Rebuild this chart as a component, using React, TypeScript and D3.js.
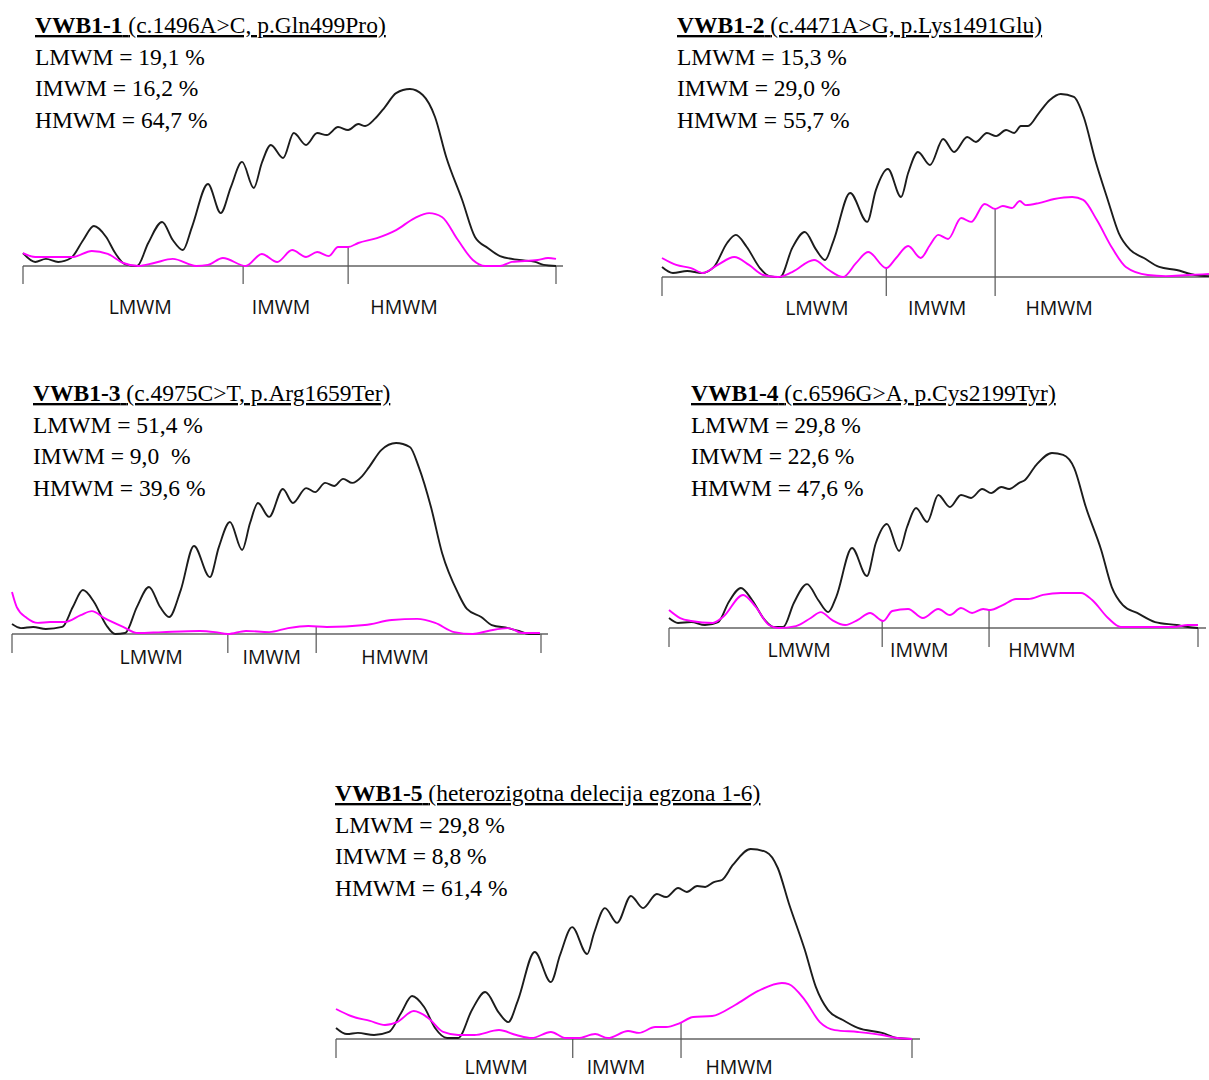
import React from 'react';
import * as d3 from 'd3';

type Pt = [number, number];

// ---------- Data (x: migration, % of lane length; y: relative density, % of highest peak) ----------
const sampleIds = ['VWB1-1', 'VWB1-2', 'VWB1-3', 'VWB1-4', 'VWB1-5'];
const sampleVariants = [
  '(c.1496A>C, p.Gln499Pro)',
  '(c.4471A>G, p.Lys1491Glu)',
  '(c.4975C>T, p.Arg1659Ter)',
  '(c.6596G>A, p.Cys2199Tyr)',
  '(heterozigotna delecija egzona 1-6)',
];
const fractionNames = ['LMWM', 'IMWM', 'HMWM'];
const lmwmPercent = ['19,1', '15,3', '51,4', '29,8', '29,8'];
const imwmPercent = ['16,2', '29,0', '9,0 ', '22,6', '8,8'];
const hmwmPercent = ['64,7', '55,7', '39,6', '47,6', '61,4'];

const vwb1Patient: Pt[] = [
  [0, 7.3], [2.3, 2.3], [4.3, 4.0], [6.6, 2.3], [9.0, 4.5], [11.3, 14.7], [13.3, 22.6], [15.6, 16.4],
  [17.3, 7.3], [19.1, 1.1], [21.4, 0], [23.5, 13.0], [26.1, 24.9], [28.1, 14.7], [30.0, 9.0], [31.7, 22.0],
  [34.7, 46.3], [37.1, 29.9], [39.0, 44.6], [41.1, 58.8], [43.3, 44.1], [44.8, 58.2], [46.5, 68.4],
  [48.8, 61.0], [50.8, 75.1], [53.1, 68.4], [55.2, 75.1], [57.0, 74.0], [59.1, 78.5], [61.0, 76.8],
  [62.9, 80.2], [64.2, 79.1], [66.0, 83.1], [67.9, 89.8], [70.0, 97.7], [72.6, 100], [75.0, 96.6],
  [77.3, 84.2], [79.4, 61.6], [82.4, 37.3], [84.8, 16.4], [87.2, 10.2], [89.5, 5.6], [93.1, 3.4],
  [96.1, 2.3], [97.7, 0.6], [100, 0],
];
const vwb1Ref: Pt[] = [
  [0, 7.3], [2.3, 5.1], [9.4, 5.1], [12.9, 8.5], [15.9, 6.8], [18.8, 1.7], [21.6, 0], [24.6, 1.7],
  [28.1, 4.0], [32.5, 0], [34.7, 0.6], [37.5, 4.5], [41.8, 0], [44.8, 6.8], [47.7, 2.3], [50.5, 9.0],
  [53.1, 5.1], [55.2, 7.9], [57.4, 5.6], [59.1, 10.7], [61.0, 10.7], [62.9, 13.0], [66.4, 15.8],
  [70.0, 20.3], [73.5, 27.1], [76.2, 29.9], [78.6, 27.7], [81.6, 14.7], [84.4, 3.4], [86.7, 0],
  [89.5, 0], [91.7, 2.3], [96.6, 3.4], [98.5, 4.5], [100, 4.0],
];

const vwb2Patient: Pt[] = [
  [0, 5.5], [2.0, 2.2], [4.6, 3.3], [7.3, 2.2], [9.5, 5.5], [11.9, 18.6], [13.5, 23.0], [15.5, 16.4],
  [17.9, 4.9], [19.6, 0.5], [21.6, 0], [23.8, 15.8], [26.1, 24.6], [28.2, 14.8], [29.8, 9.3], [31.4, 20.2],
  [34.4, 45.9], [37.5, 30.1], [39.1, 47.5], [41.3, 59.0], [43.7, 43.7], [45.0, 56.8], [46.8, 68.3],
  [49.0, 61.2], [51.4, 75.4], [53.4, 68.3], [55.8, 76.5], [57.4, 73.8], [59.4, 78.7], [61.1, 77.0],
  [62.9, 80.3], [64.4, 78.7], [65.6, 82.5], [66.9, 82.5], [68.9, 89.6], [70.9, 96.7], [72.9, 100],
  [75.3, 98.4], [77.1, 87.4], [79.2, 63.9], [81.5, 42.1], [83.5, 24.0], [85.6, 14.8], [88.1, 10.4],
  [90.9, 5.5], [94.1, 3.8], [97.4, 1.1], [100, 0.5],
];
const vwb2Ref: Pt[] = [
  [0, 10.4], [2.6, 6.6], [5.3, 4.9], [7.5, 2.2], [10.2, 6.6], [13.2, 10.9], [15.9, 6.6], [18.5, 1.1],
  [21.2, 0], [23.8, 2.7], [27.8, 9.3], [30.5, 3.8], [33.1, 0], [35.5, 7.7], [37.7, 13.7], [41.0, 4.9],
  [42.8, 10.4], [45.0, 16.9], [47.3, 10.4], [49.0, 17.5], [50.5, 23.0], [52.3, 20.8], [54.7, 32.2],
  [56.5, 30.1], [59.0, 39.9], [60.9, 37.2], [62.3, 38.8], [64.0, 37.7], [65.4, 41.5], [66.5, 39.3],
  [68.9, 40.4], [71.7, 42.6], [75.0, 43.7], [77.0, 42.1], [79.5, 31.1], [82.3, 15.8], [84.8, 5.5],
  [88.8, 1.1], [92.1, 0.5], [96.2, 1.1], [100, 1.6],
];

const vwb3Patient: Pt[] = [
  [0, 5.2], [1.7, 3.1], [4.0, 3.7], [6.4, 2.6], [9.5, 3.7], [11.5, 14.1], [13.4, 23.0], [15.5, 16.8],
  [17.8, 4.7], [19.5, 0], [21.4, 0.5], [23.6, 14.1], [25.9, 24.6], [28.0, 14.1], [29.7, 8.9], [31.9, 23.0],
  [34.4, 46.1], [37.4, 29.8], [39.1, 45.5], [41.2, 58.6], [43.5, 44.0], [45.0, 58.1], [46.5, 68.6],
  [48.6, 61.3], [51.2, 75.9], [53.1, 68.6], [55.6, 76.4], [57.3, 74.3], [59.2, 79.1], [60.9, 77.5],
  [62.6, 81.2], [64.3, 79.1], [66.2, 82.7], [67.5, 87.4], [69.8, 96.3], [72.6, 100], [75.2, 97.9],
  [76.9, 87.4], [79.2, 66.5], [81.3, 42.4], [84.3, 21.5], [86.0, 13.1], [88.7, 8.9], [90.7, 4.7],
  [93.8, 3.1], [95.8, 1.6], [97.7, 0], [99.8, 0],
];
const vwb3Ref: Pt[] = [
  [0, 22.0], [0.9, 14.1], [2.8, 8.4], [4.9, 5.8], [7.2, 6.3], [10.0, 6.3], [13.0, 9.9], [15.1, 12.0],
  [17.4, 8.4], [21.0, 3.7], [23.8, 0.5], [28.4, 1.0], [35.5, 1.6], [38.4, 1.0], [40.8, 0], [44.2, 1.6],
  [48.6, 1.0], [52.2, 3.1], [56.0, 4.2], [59.5, 3.7], [66.7, 4.7], [71.8, 7.3], [76.6, 7.9], [80.0, 5.8],
  [83.6, 1.0], [87.1, 0], [90.0, 1.6], [93.8, 3.1], [96.6, 0.5], [99.8, 0.5],
];

const vwb4Patient: Pt[] = [
  [0, 5.7], [1.7, 2.9], [4.2, 3.4], [6.8, 1.7], [9.3, 3.4], [11.3, 14.9], [13.6, 22.9], [15.7, 16.0],
  [18.1, 4.6], [19.8, 0.6], [21.6, 0.6], [23.6, 14.3], [26.1, 25.1], [28.2, 16.0], [30.1, 9.1], [31.6, 17.7],
  [34.6, 45.7], [37.4, 29.7], [39.1, 48.6], [41.2, 59.4], [43.5, 44.0], [45.0, 57.7], [46.7, 68.6],
  [48.8, 60.6], [50.9, 76.0], [53.1, 69.1], [55.2, 76.0], [57.1, 74.3], [59.2, 79.4], [60.9, 77.1],
  [62.8, 80.6], [64.3, 79.4], [66.2, 82.9], [67.3, 84.6], [69.4, 93.1], [72.4, 100], [74.5, 98.9],
  [76.6, 91.4], [78.8, 69.1], [81.7, 44.6], [83.7, 23.4], [85.8, 13.1], [88.5, 8.6], [91.9, 3.4],
  [96.0, 1.7], [98.1, 0.6], [100, 0],
];
const vwb4Ref: Pt[] = [
  [0, 10.3], [2.1, 5.7], [4.2, 4.0], [8.3, 2.9], [10.2, 6.3], [14.0, 18.9], [16.4, 12.0], [18.9, 1.7],
  [20.6, 0], [24.0, 1.1], [26.8, 5.7], [28.7, 9.1], [30.8, 4.6], [33.3, 1.7], [35.7, 4.6], [38.0, 8.6],
  [40.5, 4.0], [42.2, 9.7], [45.2, 10.9], [48.0, 5.7], [50.9, 10.9], [53.1, 7.4], [55.2, 11.4],
  [57.3, 8.6], [59.4, 10.9], [60.7, 10.3], [63.1, 13.1], [65.6, 16.6], [67.9, 16.6], [70.7, 18.9],
  [74.1, 20.0], [77.9, 20.0], [80.0, 16.0], [83.0, 5.7], [85.4, 0.6], [90.5, 0.6], [95.3, 0.6],
  [98.1, 1.7], [100, 1.7],
];

const vwb5Patient: Pt[] = [
  [0, 5.8], [1.9, 2.6], [3.8, 3.2], [6.6, 2.1], [9.2, 3.7], [11.3, 13.7], [13.2, 22.6], [15.3, 16.8],
  [17.2, 5.8], [19.3, 0.5], [21.2, 0.5], [23.6, 15.3], [25.9, 24.7], [28.3, 13.7], [29.9, 8.9], [31.6, 20.5],
  [34.5, 45.8], [37.3, 30.0], [38.9, 44.2], [41.0, 58.9], [43.6, 44.7], [44.8, 55.8], [46.7, 68.9],
  [48.8, 61.1], [51.2, 75.3], [53.3, 68.9], [55.7, 76.3], [57.3, 74.7], [59.4, 79.5], [60.9, 77.4],
  [62.7, 80.5], [64.1, 80.0], [65.6, 82.6], [67.0, 83.7], [68.9, 91.6], [72.0, 100], [74.7, 98.4],
  [76.7, 90.0], [78.6, 71.6], [81.4, 46.8], [83.3, 27.4], [85.4, 15.3], [88.0, 10.0], [90.6, 5.8],
  [94.8, 3.2], [97.4, 0.5], [100, 0],
];
const vwb5Ref: Pt[] = [
  [0, 15.8], [2.6, 12.1], [5.9, 9.5], [8.5, 7.4], [10.6, 8.9], [13.5, 14.7], [16.0, 11.1], [18.6, 3.7],
  [21.2, 2.1], [24.0, 2.1], [28.3, 4.7], [31.3, 2.1], [34.0, 0.5], [37.3, 3.7], [39.9, 0.5], [42.0, 0.5],
  [45.0, 2.6], [47.2, 0.5], [50.7, 4.2], [52.6, 3.2], [55.4, 6.3], [57.3, 6.3], [59.7, 8.4], [62.0, 11.6],
  [65.3, 12.1], [69.3, 17.9], [73.3, 25.3], [77.4, 29.5], [78.6, 28.9], [81.4, 20.5], [84.0, 8.9],
  [86.6, 4.7], [90.6, 3.7], [94.8, 2.1], [97.4, 0.5], [100, 0],
];

const patientCurves = [vwb1Patient, vwb2Patient, vwb3Patient, vwb4Patient, vwb5Patient];
const referenceCurves = [vwb1Ref, vwb2Ref, vwb3Ref, vwb4Ref, vwb5Ref];
// boundaries LMWM|IMWM and IMWM|HMWM along the lane (%)
const fractionBounds: [number, number][] = [
  [41.3, 61.0], [41.0, 60.9], [40.8, 57.5], [40.3, 60.5], [41.1, 59.9],
];
// where the fraction names sit along the lane (%)
const labelCenters: [number, number, number][] = [
  [22.0, 48.4, 71.5], [28.3, 50.3, 72.6], [26.3, 49.1, 72.4], [24.6, 47.3, 70.5], [27.8, 48.6, 70.0],
];

// ---------- Layout (pixels) ----------
interface Layout {
  x0: number; x1: number; base: number; top: number; axisEnd: number;
  textX: number; titleY: number; lineGap: number; tickLen: number; labelY: number; endTick: boolean;
}
const layouts: Layout[] = [
  { x0: 23, x1: 556, base: 266, top: 89, axisEnd: 563, textX: 35, titleY: 33, lineGap: 31.7, tickLen: 18, labelY: 314, endTick: true },
  { x0: 662, x1: 1209, base: 277, top: 94, axisEnd: 1209, textX: 677, titleY: 33, lineGap: 31.7, tickLen: 19, labelY: 315, endTick: false },
  { x0: 12, x1: 541, base: 634, top: 443, axisEnd: 548, textX: 33, titleY: 401, lineGap: 31.7, tickLen: 19, labelY: 664, endTick: true },
  { x0: 669, x1: 1198, base: 628, top: 453, axisEnd: 1206, textX: 691, titleY: 401, lineGap: 31.7, tickLen: 19, labelY: 657, endTick: true },
  { x0: 336, x1: 912, base: 1039, top: 849, axisEnd: 920, textX: 335, titleY: 801, lineGap: 31.7, tickLen: 19, labelY: 1074, endTick: true },
];

const SERIF = '"Liberation Serif", "Times New Roman", serif';
const SANS = '"Open Sans", "Noto Sans", sans-serif';
const SERIF_SIZE = 23.5;
const SANS_SIZE = 19.5;

function valueAt(curve: Pt[], x: number): number {
  const i = d3.bisector((d: Pt) => d[0]).left(curve, x);
  if (i <= 0) return curve[0][1];
  if (i >= curve.length) return curve[curve.length - 1][1];
  const a = curve[i - 1], b = curve[i];
  const t = (x - a[0]) / (b[0] - a[0]);
  return a[1] + t * (b[1] - a[1]);
}

function Panel({ idx }: { idx: number }) {
  const L = layouts[idx];
  const xScale = d3.scaleLinear().domain([0, 100]).range([L.x0, L.x1]);
  const yScale = d3.scaleLinear().domain([0, 100]).range([L.base, L.top]);
  const line = d3.line<Pt>().x(d => xScale(d[0])).y(d => yScale(d[1])).curve(d3.curveMonotoneX);
  const ref = referenceCurves[idx];
  const pat = patientCurves[idx];
  const tickBottom = L.base + L.tickLen;
  const lines = [
    `LMWM = ${lmwmPercent[idx]} %`,
    `IMWM = ${imwmPercent[idx]} %`,
    `HMWM = ${hmwmPercent[idx]} %`,
  ];
  return (
    <g>
      <text x={L.textX} y={L.titleY} fontFamily={SERIF} fontSize={SERIF_SIZE} fill="#000" textDecoration="underline">
        <tspan fontWeight="bold">{sampleIds[idx]}</tspan>
        <tspan> {sampleVariants[idx]}</tspan>
      </text>
      {lines.map((t, i) => (
        <text key={i} x={L.textX} y={L.titleY + L.lineGap * (i + 1)} fontFamily={SERIF} fontSize={SERIF_SIZE} fill="#000" style={{ whiteSpace: 'pre' }}>
          {t}
        </text>
      ))}
      <line x1={L.x0} x2={L.axisEnd} y1={L.base} y2={L.base} stroke="#8a8a8a" strokeWidth={1.8} />
      <line x1={xScale(0)} x2={xScale(0)} y1={L.base} y2={tickBottom} stroke="#555" strokeWidth={1.2} />
      {L.endTick && <line x1={xScale(100)} x2={xScale(100)} y1={L.base} y2={tickBottom} stroke="#555" strokeWidth={1.2} />}
      {fractionBounds[idx].map((b, i) => (
        <line key={i} x1={xScale(b)} x2={xScale(b)} y1={yScale(valueAt(ref, b))} y2={tickBottom} stroke="#555" strokeWidth={1.2} />
      ))}
      {fractionNames.map((n, i) => (
        <text key={n} x={xScale(labelCenters[idx][i])} y={L.labelY} textAnchor="middle" fontFamily={SANS} fontSize={SANS_SIZE} fill="#111">
          {n}
        </text>
      ))}
      <path d={line(pat) || ''} fill="none" stroke="#1c1c1c" strokeWidth={1.9} strokeLinejoin="round" />
      <path d={line(ref) || ''} fill="none" stroke="#ff00ff" strokeWidth={1.9} strokeLinejoin="round" />
    </g>
  );
}

export default function App() {
  return (
    <svg width={1209} height={1080} viewBox="0 0 1209 1080"
      style={{ position: 'absolute', left: 0, top: 0, background: '#fff', display: 'block' }}>
      <rect width={1209} height={1080} fill="#fff" />
      {sampleIds.map((_, i) => <Panel key={i} idx={i} />)}
    </svg>
  );
}
